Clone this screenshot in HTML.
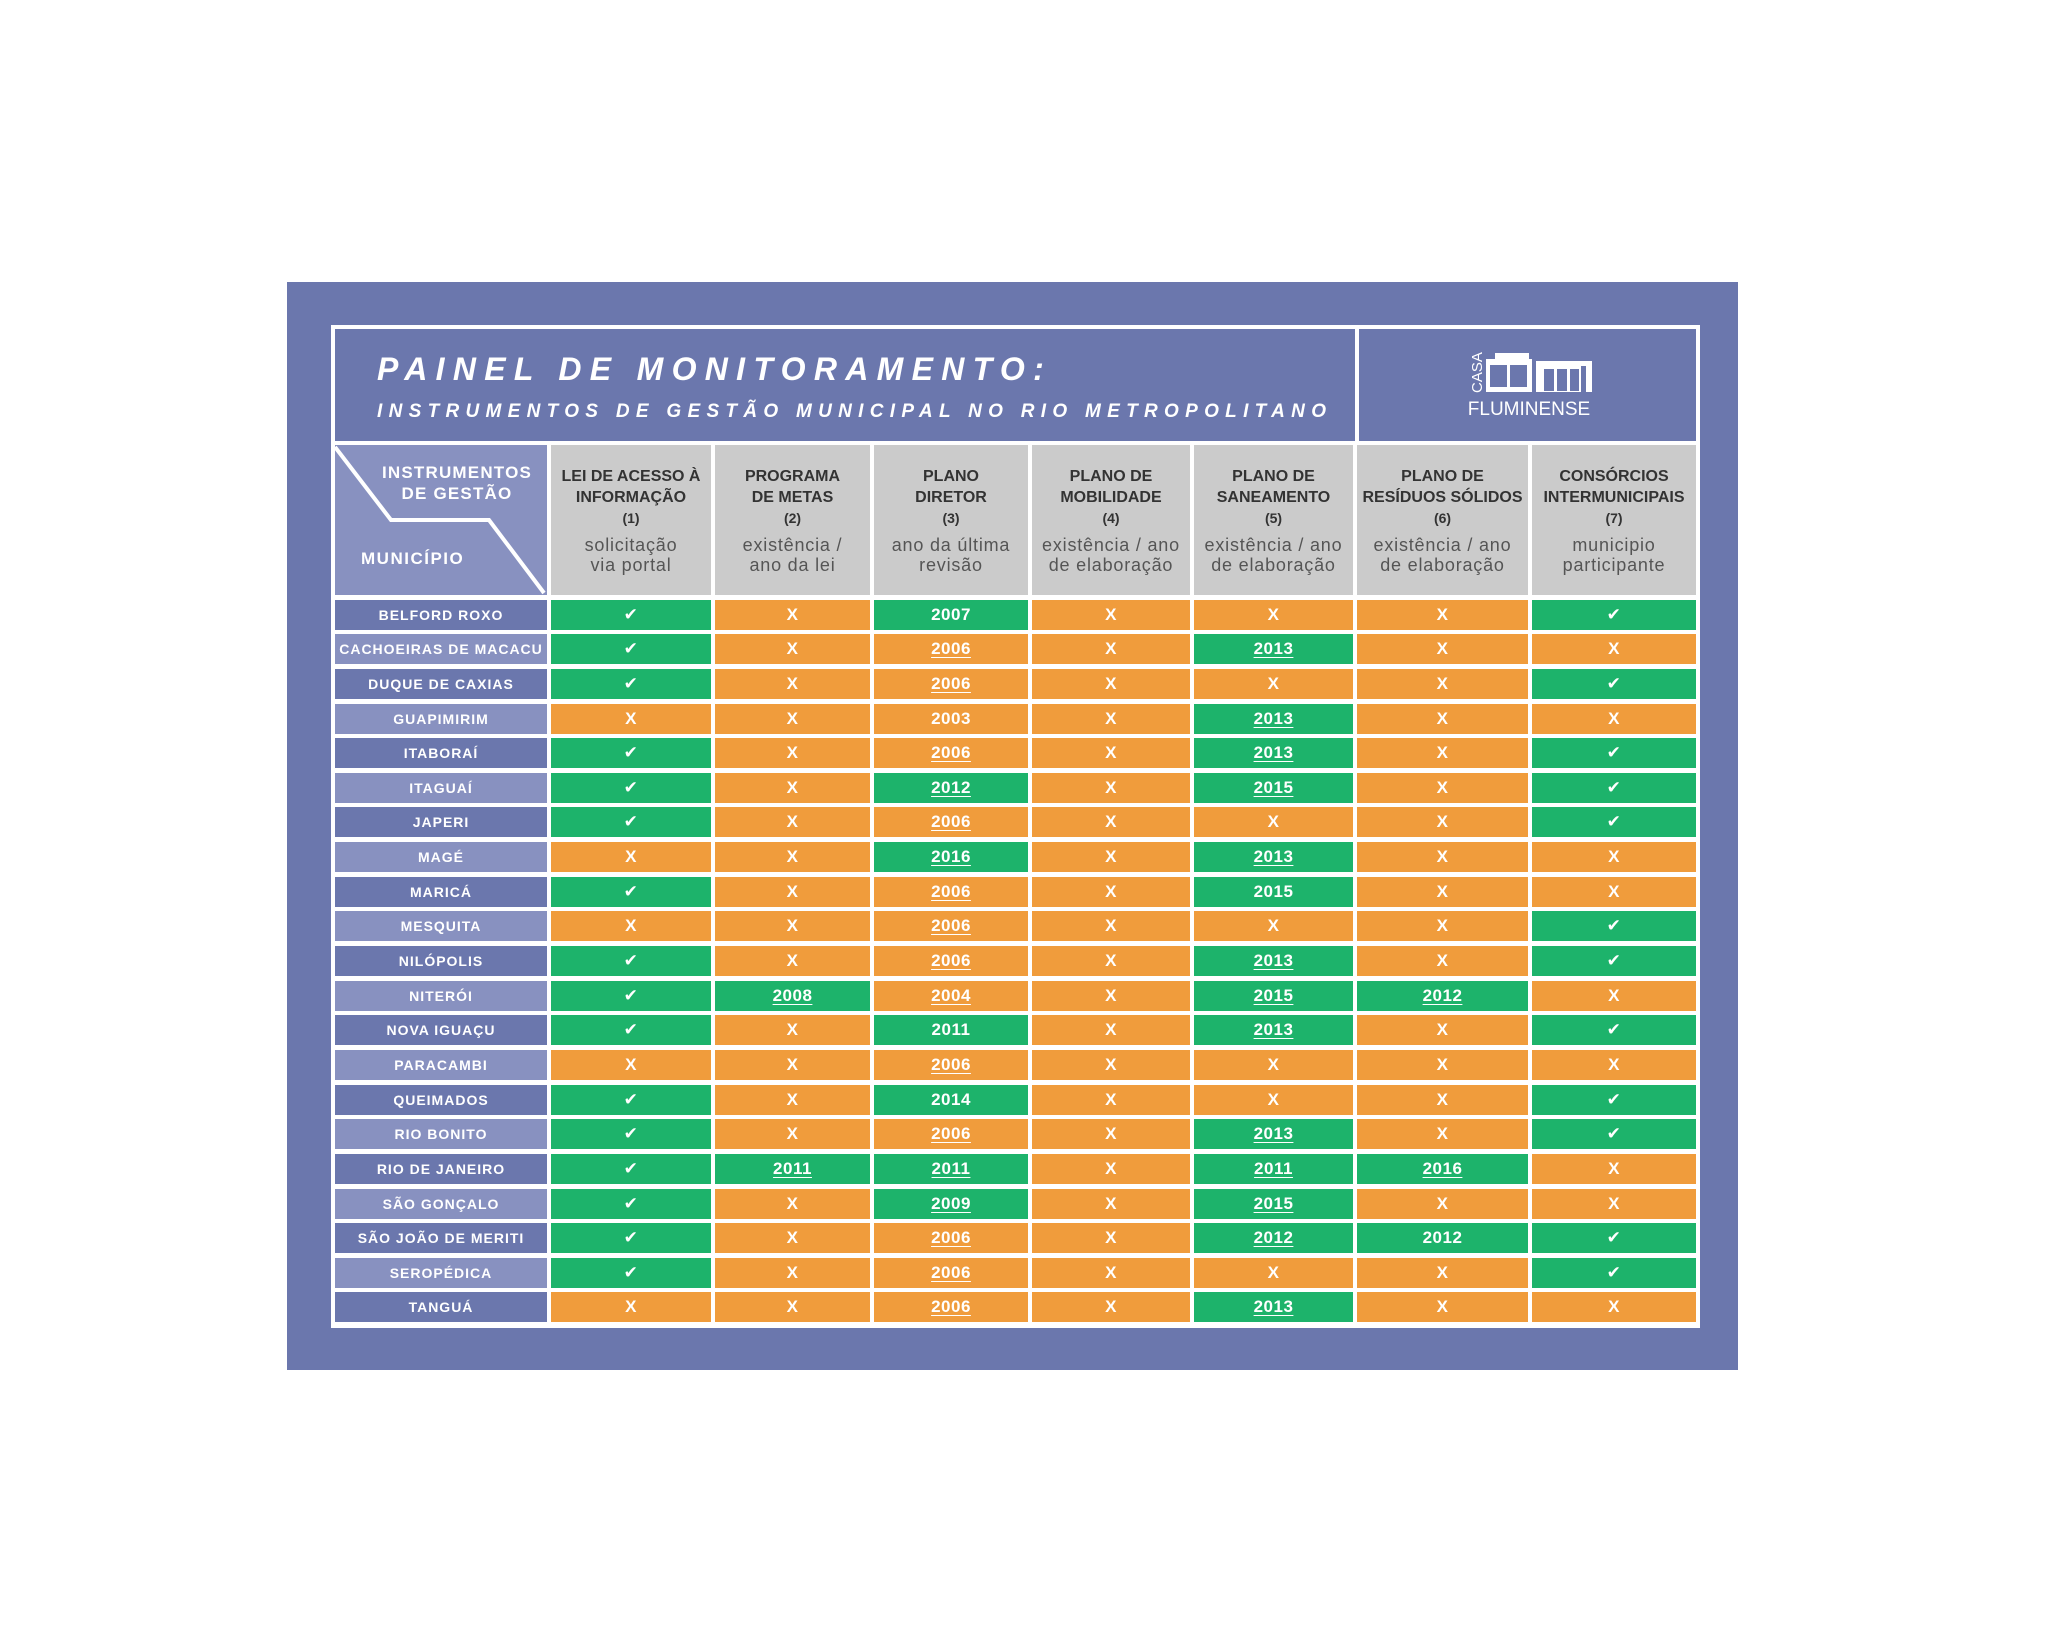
<!DOCTYPE html>
<html><head><meta charset="utf-8"><style>
body{margin:0;width:2048px;height:1650px;background:#fff;position:relative;overflow:hidden;font-family:"Liberation Sans","DejaVu Sans",sans-serif}
.abs{position:absolute}
#outer{left:287px;top:282px;width:1451px;height:1088px;background:#6b77ad}
#inner{left:331px;top:325px;width:1369px;height:1003px;background:#fff}
#title{left:335px;top:329px;width:1020px;height:112px;background:#6b77ad;color:#fff}
#logo{left:1359px;top:329px;width:337px;height:112px;background:#6b77ad;color:#fff}
.t1{position:absolute;left:42px;top:22px;font-size:32px;font-weight:bold;font-style:italic;letter-spacing:8.3px;white-space:nowrap}
.t2{position:absolute;left:42px;top:72px;font-size:19px;font-weight:bold;font-style:italic;letter-spacing:6.3px;white-space:nowrap}
#grid{left:335px;top:445px;display:grid;grid-template-columns:212px 160px 155px 154px 158px 159px 171px 164px;grid-template-rows:150px;grid-auto-rows:30px;column-gap:4px;row-gap:4.65px}
#grid>div{display:flex;align-items:center;justify-content:center;color:#fff;font-weight:bold;font-size:14px;letter-spacing:1px;text-align:center;white-space:nowrap}
#grid>div.h{background:#cbcbcb;color:#333;flex-direction:column;letter-spacing:0;font-size:16px;line-height:21px}
.h .s{font-weight:normal;font-size:18px;line-height:20px;color:#555;letter-spacing:0.8px;margin-top:6px}
.h .n{font-size:14px}
#grid>div.corner{background:#8891c0;position:relative;display:block}
.d{background:#6b77ad}.l{background:#8891c0}
.g{background:#1db36b}.o{background:#f09c3c}
#grid>div.g,#grid>div.o{font-size:17px;letter-spacing:0.5px}
.u{text-decoration:underline;text-underline-offset:3px}
</style></head><body>
<div id="outer" class="abs"></div>
<div id="inner" class="abs"></div>
<div id="title" class="abs"><div class="t1">PAINEL DE MONITORAMENTO:</div><div class="t2">INSTRUMENTOS DE GESTÃO MUNICIPAL NO RIO METROPOLITANO</div></div>
<div id="logo" class="abs">
<svg width="337" height="112" style="position:absolute;left:0;top:0">
<text transform="translate(123,64) rotate(-90)" font-family="Liberation Sans" font-size="15" fill="#fff">CASA</text>
<path d="M136 24 h34 v6 h3 v33 h-46 v-33 h9z" fill="#fff"/>
<rect x="131" y="36" width="17" height="22" fill="#6b77ad"/><rect x="151" y="36" width="17" height="22" fill="#6b77ad"/>
<path d="M177 32 h56 v31 h-6 v-26 h-45 v26 h-5z" fill="#fff"/>
<path d="M182 37 h40 v26 h-40z" fill="#fff"/>
<rect x="185" y="40" width="10" height="22" fill="#6b77ad"/><rect x="198" y="40" width="10" height="22" fill="#6b77ad"/><rect x="211" y="40" width="9" height="22" fill="#6b77ad"/>
<text x="170" y="86" text-anchor="middle" font-family="Liberation Sans" font-size="19" fill="#fff">FLUMINENSE</text>
</svg></div>
<div id="grid" class="abs">
<div class="corner"><svg width="212" height="150" style="position:absolute;left:0;top:0"><polyline points="0,2 56,75 154,75 209,148" fill="none" stroke="#fff" stroke-width="4"/>
<text x="122" y="33" text-anchor="middle" font-family="Liberation Sans" font-weight="bold" font-size="17" letter-spacing="1.2" fill="#fff">INSTRUMENTOS</text>
<text x="122" y="54" text-anchor="middle" font-family="Liberation Sans" font-weight="bold" font-size="17" letter-spacing="1.2" fill="#fff">DE GESTÃO</text>
<text x="26" y="119" font-family="Liberation Sans" font-weight="bold" font-size="17" letter-spacing="1.5" fill="#fff">MUNICÍPIO</text></svg></div>
<div class="h"><span>LEI DE ACESSO À</span><span>INFORMAÇÃO</span><span class="n">(1)</span><span class="s">solicitação<br>via portal</span></div>
<div class="h"><span>PROGRAMA</span><span>DE METAS</span><span class="n">(2)</span><span class="s">existência /<br>ano da lei</span></div>
<div class="h"><span>PLANO</span><span>DIRETOR</span><span class="n">(3)</span><span class="s">ano da última<br>revisão</span></div>
<div class="h"><span>PLANO DE</span><span>MOBILIDADE</span><span class="n">(4)</span><span class="s">existência / ano<br>de elaboração</span></div>
<div class="h"><span>PLANO DE</span><span>SANEAMENTO</span><span class="n">(5)</span><span class="s">existência / ano<br>de elaboração</span></div>
<div class="h"><span>PLANO DE</span><span>RESÍDUOS SÓLIDOS</span><span class="n">(6)</span><span class="s">existência / ano<br>de elaboração</span></div>
<div class="h"><span>CONSÓRCIOS</span><span>INTERMUNICIPAIS</span><span class="n">(7)</span><span class="s">municipio<br>participante</span></div>

<div class="d">BELFORD ROXO</div><div class="g">✔</div><div class="o">X</div><div class="g">2007</div><div class="o">X</div><div class="o">X</div><div class="o">X</div><div class="g">✔</div>
<div class="l">CACHOEIRAS DE MACACU</div><div class="g">✔</div><div class="o">X</div><div class="o u">2006</div><div class="o">X</div><div class="g u">2013</div><div class="o">X</div><div class="o">X</div>
<div class="d">DUQUE DE CAXIAS</div><div class="g">✔</div><div class="o">X</div><div class="o u">2006</div><div class="o">X</div><div class="o">X</div><div class="o">X</div><div class="g">✔</div>
<div class="l">GUAPIMIRIM</div><div class="o">X</div><div class="o">X</div><div class="o">2003</div><div class="o">X</div><div class="g u">2013</div><div class="o">X</div><div class="o">X</div>
<div class="d">ITABORAÍ</div><div class="g">✔</div><div class="o">X</div><div class="o u">2006</div><div class="o">X</div><div class="g u">2013</div><div class="o">X</div><div class="g">✔</div>
<div class="l">ITAGUAÍ</div><div class="g">✔</div><div class="o">X</div><div class="g u">2012</div><div class="o">X</div><div class="g u">2015</div><div class="o">X</div><div class="g">✔</div>
<div class="d">JAPERI</div><div class="g">✔</div><div class="o">X</div><div class="o u">2006</div><div class="o">X</div><div class="o">X</div><div class="o">X</div><div class="g">✔</div>
<div class="l">MAGÉ</div><div class="o">X</div><div class="o">X</div><div class="g u">2016</div><div class="o">X</div><div class="g u">2013</div><div class="o">X</div><div class="o">X</div>
<div class="d">MARICÁ</div><div class="g">✔</div><div class="o">X</div><div class="o u">2006</div><div class="o">X</div><div class="g">2015</div><div class="o">X</div><div class="o">X</div>
<div class="l">MESQUITA</div><div class="o">X</div><div class="o">X</div><div class="o u">2006</div><div class="o">X</div><div class="o">X</div><div class="o">X</div><div class="g">✔</div>
<div class="d">NILÓPOLIS</div><div class="g">✔</div><div class="o">X</div><div class="o u">2006</div><div class="o">X</div><div class="g u">2013</div><div class="o">X</div><div class="g">✔</div>
<div class="l">NITERÓI</div><div class="g">✔</div><div class="g u">2008</div><div class="o u">2004</div><div class="o">X</div><div class="g u">2015</div><div class="g u">2012</div><div class="o">X</div>
<div class="d">NOVA IGUAÇU</div><div class="g">✔</div><div class="o">X</div><div class="g">2011</div><div class="o">X</div><div class="g u">2013</div><div class="o">X</div><div class="g">✔</div>
<div class="l">PARACAMBI</div><div class="o">X</div><div class="o">X</div><div class="o u">2006</div><div class="o">X</div><div class="o">X</div><div class="o">X</div><div class="o">X</div>
<div class="d">QUEIMADOS</div><div class="g">✔</div><div class="o">X</div><div class="g">2014</div><div class="o">X</div><div class="o">X</div><div class="o">X</div><div class="g">✔</div>
<div class="l">RIO BONITO</div><div class="g">✔</div><div class="o">X</div><div class="o u">2006</div><div class="o">X</div><div class="g u">2013</div><div class="o">X</div><div class="g">✔</div>
<div class="d">RIO DE JANEIRO</div><div class="g">✔</div><div class="g u">2011</div><div class="g u">2011</div><div class="o">X</div><div class="g u">2011</div><div class="g u">2016</div><div class="o">X</div>
<div class="l">SÃO GONÇALO</div><div class="g">✔</div><div class="o">X</div><div class="g u">2009</div><div class="o">X</div><div class="g u">2015</div><div class="o">X</div><div class="o">X</div>
<div class="d">SÃO JOÃO DE MERITI</div><div class="g">✔</div><div class="o">X</div><div class="o u">2006</div><div class="o">X</div><div class="g u">2012</div><div class="g">2012</div><div class="g">✔</div>
<div class="l">SEROPÉDICA</div><div class="g">✔</div><div class="o">X</div><div class="o u">2006</div><div class="o">X</div><div class="o">X</div><div class="o">X</div><div class="g">✔</div>
<div class="d">TANGUÁ</div><div class="o">X</div><div class="o">X</div><div class="o u">2006</div><div class="o">X</div><div class="g u">2013</div><div class="o">X</div><div class="o">X</div>
</div>
</body></html>
